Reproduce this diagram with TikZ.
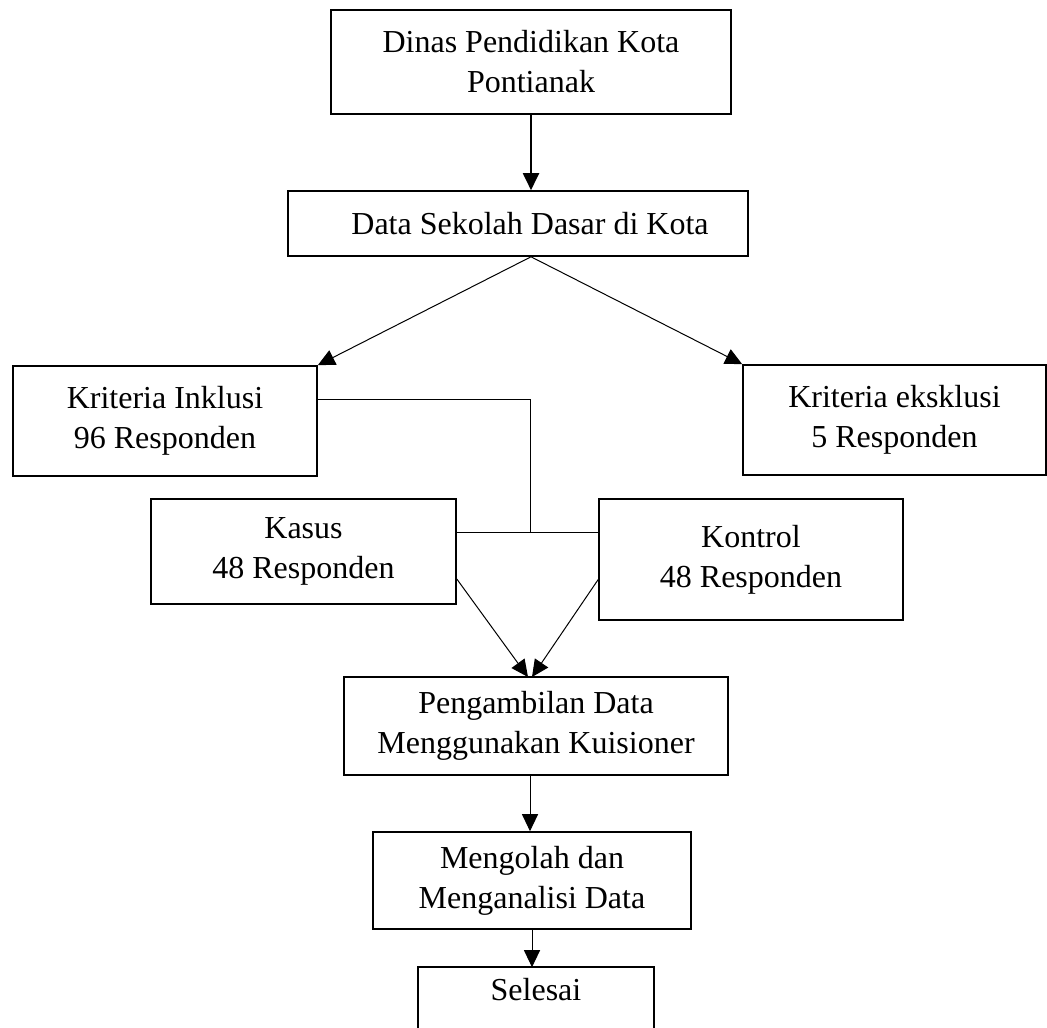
\documentclass[tikz,border=0pt]{standalone}
\usepackage{fontspec}
\setmainfont{Liberation Serif}
\usepackage{tikz}
\usetikzlibrary{arrows.meta}
\newlength\pxunit
\setlength\pxunit{0.5pt}

\begin{document}
\begin{tikzpicture}[x=1\pxunit,y=-1\pxunit,font=\fontsize{16}{20}\selectfont,box/.style n args={2}{draw,line width=0.8pt,minimum width=#1\pxunit,minimum height=#2\pxunit,inner sep=0pt,align=center,rectangle},line/.style={line width=0.5pt},arr/.style={line width=0.5pt,-{Triangle[length=8.5pt,width=8pt]}}]
\useasboundingbox (0,0) rectangle (1047,1027);
\clip (0,0) rectangle (1047,1027);
\node[box={400}{104}] (dinas) at (531,62) {Dinas Pendidikan Kota\\Pontianak};
\node[box={460}{65}] (data) at (518,223.5) {\hspace*{24\pxunit}Data Sekolah Dasar di Kota};
\node[box={304}{110}] (inklusi) at (165,421) {Kriteria Inklusi\\96 Responden};
\node[box={303}{110}] (eksklusi) at (894.5,420) {Kriteria eksklusi\\5 Responden};
\node[box={305}{105}] (kasus) at (303.5,551.5) {Kasus\\48 Responden};
\node[box={304}{121}] (kontrol) at (751,559.5) {Kontrol\\48 Responden};
\node[box={384}{98}] (ambil) at (536,726) {Pengambilan Data\\Menggunakan Kuisioner};
\node[box={318}{97}] (olah) at (532,880.5) {Mengolah dan\\Menganalisi Data};
\node[box={234}{44},draw=none] (selesai) at (536,990) {Selesai};
\draw[line width=0.8pt] ([yshift=-30\pxunit]selesai.south west) |- (selesai.north east) -- ([yshift=-30\pxunit]selesai.south east);
\coordinate (jn) at (530,532);
\coordinate (tip) at (530,677);
% arrows
\draw[arr,line width=1pt] (dinas.south) -- (dinas.south |- data.north);
\draw[arr] (dinas.south |- data.south) -- (inklusi.north east);
\draw[arr] (dinas.south |- data.south) -- (eksklusi.north west);
\draw[line] ([yshift=22\pxunit]inklusi.east) -| (jn);
\draw[line] (kasus.east |- jn) -- (kontrol.west |- jn);
\draw[arr] ([yshift=-27.5\pxunit]kasus.east) -- ([xshift=-2\pxunit]tip);
\draw[arr] ([yshift=-20\pxunit]kontrol.west) -- ([xshift=2\pxunit]tip);
\draw[arr] (tip |- ambil.south) -- (tip |- olah.north);
\draw[arr] (olah.south) -- (olah.south |- selesai.north);
\end{tikzpicture}
\end{document}
